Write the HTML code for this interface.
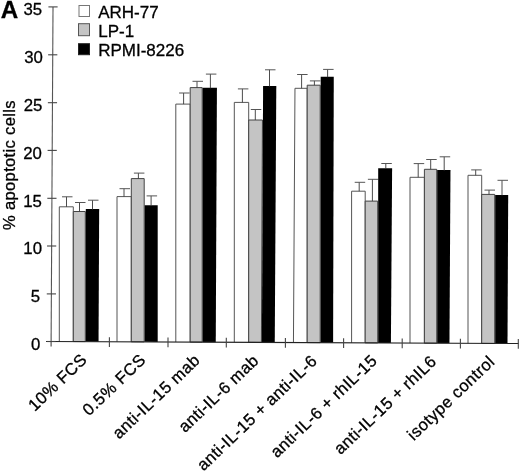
<!DOCTYPE html>
<html><head><meta charset="utf-8"><style>
html,body{margin:0;padding:0;background:#fff;}
svg{display:block;filter:grayscale(1);}
text{font-family:"Liberation Sans",sans-serif;fill:#000;stroke:#000;stroke-width:0.3px;}
.yt{font-size:16.8px;text-anchor:end;}
.xl{font-size:16.6px;text-anchor:end;}
.lg{font-size:17px;}
</style></head><body>
<svg width="520" height="472" viewBox="0 0 520 472">
<rect width="520" height="472" fill="#fff"/>
<text x="0.8" y="18.2" style="font-size:24.2px;font-weight:bold">A</text>
<path d="M59.30 341.49L59.30 206.80H73.30L73.30 341.55" fill="#fff" stroke="#555" stroke-width="1"/>
<path d="M66.50 206.80V196.80" stroke="#383838" stroke-width="0.9" fill="none"/><path d="M62.00 196.80H72.50" stroke="#555" stroke-width="1" fill="none"/>
<path d="M73.30 341.55L73.30 211.50H85.30L85.30 341.60Z" fill="#c4c4c4" stroke="#444" stroke-width="1"/>
<path d="M79.50 211.50V202.50" stroke="#383838" stroke-width="0.9" fill="none"/><path d="M75.00 202.50H85.50" stroke="#555" stroke-width="1" fill="none"/>
<path d="M85.80 341.61L85.80 209.10H99.17L98.55 341.66Z" fill="#000"/>
<path d="M92.50 209.60V200.20" stroke="#383838" stroke-width="0.9" fill="none"/><path d="M88.00 200.20H98.50" stroke="#555" stroke-width="1" fill="none"/>
<path d="M117.00 341.75L117.00 196.60H131.30L131.30 341.81" fill="#fff" stroke="#555" stroke-width="1"/>
<path d="M124.00 196.60V188.70" stroke="#383838" stroke-width="0.9" fill="none"/><path d="M119.50 188.70H130.00" stroke="#555" stroke-width="1" fill="none"/>
<path d="M131.30 341.81L131.30 178.60H144.20L144.20 341.87Z" fill="#c4c4c4" stroke="#444" stroke-width="1"/>
<path d="M138.40 178.60V173.10" stroke="#383838" stroke-width="0.9" fill="none"/><path d="M133.90 173.10H144.40" stroke="#555" stroke-width="1" fill="none"/>
<path d="M144.70 341.87L144.70 205.30H157.70L157.70 341.93Z" fill="#000"/>
<path d="M151.10 205.80V195.90" stroke="#383838" stroke-width="0.9" fill="none"/><path d="M146.60 195.90H157.10" stroke="#555" stroke-width="1" fill="none"/>
<path d="M175.80 342.01L175.80 104.10H190.20L190.20 342.08" fill="#fff" stroke="#555" stroke-width="1"/>
<path d="M183.60 104.10V93.00" stroke="#383838" stroke-width="0.9" fill="none"/><path d="M179.10 93.00H189.60" stroke="#555" stroke-width="1" fill="none"/>
<path d="M190.20 342.08L190.20 87.60H202.20L202.20 342.13Z" fill="#c4c4c4" stroke="#444" stroke-width="1"/>
<path d="M197.00 87.60V81.30" stroke="#383838" stroke-width="0.9" fill="none"/><path d="M192.50 81.30H203.00" stroke="#555" stroke-width="1" fill="none"/>
<path d="M202.70 342.13L202.70 87.80H216.92L215.76 342.19Z" fill="#000"/>
<path d="M210.40 88.30V74.10" stroke="#383838" stroke-width="0.9" fill="none"/><path d="M205.90 74.10H216.40" stroke="#555" stroke-width="1" fill="none"/>
<path d="M234.30 342.27L234.30 102.40H248.70L248.70 342.34" fill="#fff" stroke="#555" stroke-width="1"/>
<path d="M242.40 102.40V88.90" stroke="#383838" stroke-width="0.9" fill="none"/><path d="M237.90 88.90H248.40" stroke="#555" stroke-width="1" fill="none"/>
<path d="M248.70 342.34L248.70 120.00H262.45L261.40 342.40Z" fill="#c4c4c4" stroke="#444" stroke-width="1"/>
<path d="M255.30 120.00V109.50" stroke="#383838" stroke-width="0.9" fill="none"/><path d="M250.80 109.50H261.30" stroke="#555" stroke-width="1" fill="none"/>
<path d="M261.90 342.40L263.10 86.00H276.30L274.75 342.46Z" fill="#000"/>
<path d="M269.50 86.50V69.80" stroke="#383838" stroke-width="0.9" fill="none"/><path d="M265.00 69.80H275.50" stroke="#555" stroke-width="1" fill="none"/>
<path d="M293.45 342.54L294.97 88.30H307.20L307.20 342.60" fill="#fff" stroke="#555" stroke-width="1"/>
<path d="M301.60 88.30V74.50" stroke="#383838" stroke-width="0.9" fill="none"/><path d="M297.10 74.50H307.60" stroke="#555" stroke-width="1" fill="none"/>
<path d="M307.20 342.60L307.20 85.20H320.20L320.20 342.66Z" fill="#c4c4c4" stroke="#444" stroke-width="1"/>
<path d="M314.40 85.20V80.90" stroke="#383838" stroke-width="0.9" fill="none"/><path d="M309.90 80.90H320.40" stroke="#555" stroke-width="1" fill="none"/>
<path d="M320.70 342.66L320.70 76.70H333.76L333.10 342.72Z" fill="#000"/>
<path d="M327.60 77.20V69.40" stroke="#383838" stroke-width="0.9" fill="none"/><path d="M323.10 69.40H333.60" stroke="#555" stroke-width="1" fill="none"/>
<path d="M351.60 342.80L351.60 191.20H365.20L365.20 342.86" fill="#fff" stroke="#555" stroke-width="1"/>
<path d="M359.20 191.20V182.30" stroke="#383838" stroke-width="0.9" fill="none"/><path d="M354.70 182.30H365.20" stroke="#555" stroke-width="1" fill="none"/>
<path d="M365.20 342.86L365.20 201.10H377.70L377.70 342.92Z" fill="#c4c4c4" stroke="#444" stroke-width="1"/>
<path d="M372.40 201.10V179.30" stroke="#383838" stroke-width="0.9" fill="none"/><path d="M367.90 179.30H378.40" stroke="#555" stroke-width="1" fill="none"/>
<path d="M378.20 342.92L378.20 168.30H392.12L390.91 342.98Z" fill="#000"/>
<path d="M385.80 168.80V163.50" stroke="#383838" stroke-width="0.9" fill="none"/><path d="M381.30 163.50H391.80" stroke="#555" stroke-width="1" fill="none"/>
<path d="M410.00 343.07L410.00 177.30H424.40L424.40 343.13" fill="#fff" stroke="#555" stroke-width="1"/>
<path d="M418.20 177.30V163.60" stroke="#383838" stroke-width="0.9" fill="none"/><path d="M413.70 163.60H424.20" stroke="#555" stroke-width="1" fill="none"/>
<path d="M424.40 343.13L424.40 169.30H436.70L436.70 343.19Z" fill="#c4c4c4" stroke="#444" stroke-width="1"/>
<path d="M430.70 169.30V159.50" stroke="#383838" stroke-width="0.9" fill="none"/><path d="M426.20 159.50H436.70" stroke="#555" stroke-width="1" fill="none"/>
<path d="M437.20 343.19L437.20 170.10H450.48L449.45 343.24Z" fill="#000"/>
<path d="M444.20 170.60V156.80" stroke="#383838" stroke-width="0.9" fill="none"/><path d="M439.70 156.80H450.20" stroke="#555" stroke-width="1" fill="none"/>
<path d="M468.00 343.33L468.00 175.30H481.70L481.70 343.39" fill="#fff" stroke="#555" stroke-width="1"/>
<path d="M475.70 175.30V169.90" stroke="#383838" stroke-width="0.9" fill="none"/><path d="M471.20 169.90H481.70" stroke="#555" stroke-width="1" fill="none"/>
<path d="M481.70 343.39L481.70 194.40H494.70L494.70 343.45Z" fill="#c4c4c4" stroke="#444" stroke-width="1"/>
<path d="M489.00 194.40V190.10" stroke="#383838" stroke-width="0.9" fill="none"/><path d="M484.50 190.10H495.00" stroke="#555" stroke-width="1" fill="none"/>
<path d="M495.20 343.45L495.20 194.90H508.20L507.50 343.50Z" fill="#000"/>
<path d="M502.00 195.40V180.30" stroke="#383838" stroke-width="0.9" fill="none"/><path d="M497.50 180.30H508.00" stroke="#555" stroke-width="1" fill="none"/>
<path d="M53.01 6.9L51.10 341.45" stroke="#555" stroke-width="1.1" fill="none"/>
<path d="M46 341.43L518.6 343.55" stroke="#222" stroke-width="1.1" fill="none"/>
<path d="M46.50 341.50H55.70" stroke="#444" stroke-width="1.1"/>
<text x="40.30" y="349.80" class="yt">0</text>
<path d="M46.77 293.90H55.97" stroke="#444" stroke-width="1.1"/>
<text x="40.00" y="302.20" class="yt">5</text>
<path d="M47.04 246.00H56.24" stroke="#444" stroke-width="1.1"/>
<text x="42.00" y="254.30" class="yt">10</text>
<path d="M47.32 198.30H56.52" stroke="#444" stroke-width="1.1"/>
<text x="41.80" y="206.60" class="yt">15</text>
<path d="M47.59 150.40H56.79" stroke="#444" stroke-width="1.1"/>
<text x="41.80" y="158.70" class="yt">20</text>
<path d="M47.86 102.70H57.06" stroke="#444" stroke-width="1.1"/>
<text x="42.40" y="111.00" class="yt">25</text>
<path d="M48.13 54.80H57.33" stroke="#444" stroke-width="1.1"/>
<text x="42.90" y="63.10" class="yt">30</text>
<path d="M48.41 6.90H57.61" stroke="#444" stroke-width="1.1"/>
<text x="42.10" y="15.20" class="yt">35</text>
<path d="M109.40 337.21V346.91" stroke="#444" stroke-width="1.1"/>
<path d="M168.00 337.48V347.18" stroke="#444" stroke-width="1.1"/>
<path d="M226.30 337.74V347.44" stroke="#444" stroke-width="1.1"/>
<path d="M285.40 338.00V347.70" stroke="#444" stroke-width="1.1"/>
<path d="M343.60 338.27V347.97" stroke="#444" stroke-width="1.1"/>
<path d="M402.20 338.53V348.23" stroke="#444" stroke-width="1.1"/>
<path d="M460.40 338.79V348.49" stroke="#444" stroke-width="1.1"/>
<path d="M518.30 339.05V348.75" stroke="#444" stroke-width="1.1"/>
<path d="M51.10 341.45V346.60" stroke="#444" stroke-width="1.1"/>
<g transform="rotate(0.2808 51.2 341.5)">
<text transform="translate(87.91 361.00) rotate(-44.0)" class="xl" textLength="73.39" lengthAdjust="spacing">10% FCS</text>
<text transform="translate(146.71 361.00) rotate(-44.0)" class="xl" textLength="79.75" lengthAdjust="spacing">0.5% FCS</text>
<text transform="translate(200.72 361.00) rotate(-44.0)" class="xl" textLength="112.84" lengthAdjust="spacing">anti-IL-15 mab</text>
<text transform="translate(259.63 361.00) rotate(-44.0)" class="xl" textLength="103.11" lengthAdjust="spacing">anti-IL-6 mab</text>
<text transform="translate(317.94 361.00) rotate(-44.0)" class="xl" textLength="158.08" lengthAdjust="spacing">anti-IL-15 + anti-IL-6</text>
<text transform="translate(378.05 360.50) rotate(-44.0)" class="xl" textLength="139.59" lengthAdjust="spacing">anti-IL-6 + rhIL-15</text>
<text transform="translate(437.36 361.00) rotate(-44.0)" class="xl" textLength="133.77" lengthAdjust="spacing">anti-IL-15 + rhIL6</text>
<text transform="translate(495.47 361.00) rotate(-44.0)" class="xl" textLength="112.84" lengthAdjust="spacing">isotype control</text>
</g>
<rect x="79" y="5.5" width="10.5" height="11" fill="#fff" stroke="#777" stroke-width="1"/>
<rect x="78.5" y="23.7" width="11" height="12" fill="#c4c4c4" stroke="#555" stroke-width="1"/>
<rect x="78.5" y="43.7" width="11" height="11" fill="#000" stroke="#222" stroke-width="1"/>
<text x="98.2" y="17.9" class="lg">ARH-77</text>
<text x="98.2" y="36.9" class="lg">LP-1</text>
<text x="98.2" y="55.9" class="lg">RPMI-8226</text>
<text transform="translate(14.8 230) rotate(-90)" style="font-size:16.6px" textLength="129.5" lengthAdjust="spacing">% apoptotic cells</text>
</svg>
</body></html>
